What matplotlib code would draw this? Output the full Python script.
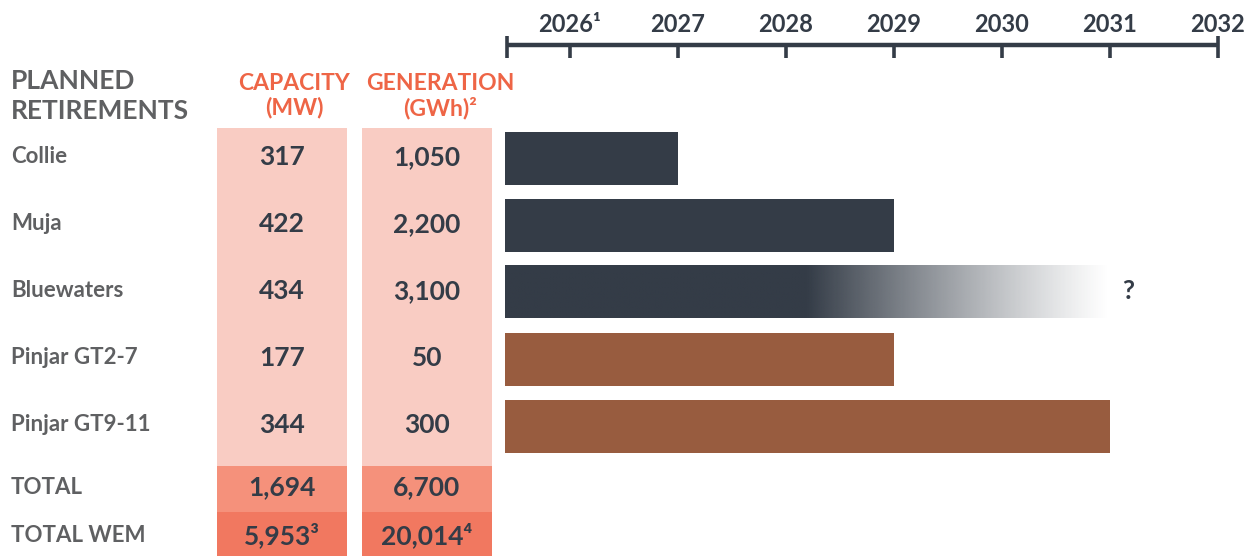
import numpy as np
import matplotlib
matplotlib.use("Agg")
import matplotlib.pyplot as plt
from matplotlib.patches import Rectangle

# ---------------- data ----------------
plants = ["Collie", "Muja", "Bluewaters", "Pinjar GT2-7", "Pinjar GT9-11"]
capacity_mw = ["317", "422", "434", "177", "344"]
generation_gwh = ["1,050", "2,200", "3,100", "50", "300"]
retire_year = [2027, 2029, 2031, 2029, 2031]
fuel = ["coal", "coal", "coal", "gas", "gas"]
uncertain = [False, False, True, False, False]
total_labels = ["TOTAL", "TOTAL WEM"]
total_capacity = ["1,694", "5,953\u00b3"]
total_generation = ["6,700", "20,014\u2074"]
years = [2026, 2027, 2028, 2029, 2030, 2031, 2032]
year_labels = ["2026\u00b9", "2027", "2028", "2029", "2030", "2031", "2032"]

# ---------------- style ----------------
DARK = "#343c47"
BROWN = "#985c3f"
GRAY = "#5f6062"
ORANGE = "#ee6546"
PINK = "#f9ccc3"
TOTAL_C = "#f5917b"
WEM_C = "#f17860"
FONT = ["Lato", "DejaVu Sans"]
plt.rcParams["font.family"] = FONT

FS_TITLE = 19
FS_HEAD = 16.5
FS_LABEL = 16
FS_VALUE = 19
FS_YEAR = 17

W, H = 1247, 556
fig = plt.figure(figsize=(W / 100, H / 100), dpi=100)

# y in "row" units: row i centred at 158 + 67*i px
def r(px):
    return (px - 158) / 67.0

YL = (r(H), r(0))

# background / table axes, x in pixels
ax = fig.add_axes([0, 0, 1, 1])
ax.set_xlim(0, W)
ax.set_ylim(*YL)
ax.axis("off")

cap_x0, cap_x1 = 217, 347
gen_x0, gen_x1 = 362, 492
top_px, tot_px, wem_px = 128, 466, 512
for x0, x1 in [(cap_x0, cap_x1), (gen_x0, gen_x1)]:
    ax.add_patch(Rectangle((x0, r(top_px)), x1 - x0, r(tot_px) - r(top_px),
                           color=PINK, lw=0))
    ax.add_patch(Rectangle((x0, r(tot_px)), x1 - x0, r(wem_px) - r(tot_px),
                           color=TOTAL_C, lw=0))
    ax.add_patch(Rectangle((x0, r(wem_px)), x1 - x0, r(H) - r(wem_px),
                           color=WEM_C, lw=0))

# header texts
ax.text(11, r(81), "PLANNED", color=GRAY, fontsize=FS_TITLE, fontweight="bold",
        ha="left", va="center")
ax.text(11, r(111), "RETIREMENTS", color=GRAY, fontsize=FS_TITLE,
        fontweight="bold", ha="left", va="center")
ax.text(294, r(83), "CAPACITY", color=ORANGE, fontsize=FS_HEAD,
        fontweight="bold", ha="center", va="center")
ax.text(294, r(108), "(MW)", color=ORANGE, fontsize=FS_HEAD, fontweight="bold",
        ha="center", va="center")
ax.text(440, r(83), "GENERATION", color=ORANGE, fontsize=FS_HEAD,
        fontweight="bold", ha="center", va="center")
ax.text(440, r(108), "(GWh)\u00b2", color=ORANGE, fontsize=FS_HEAD,
        fontweight="bold", ha="center", va="center")

# rows
cap_c = (cap_x0 + cap_x1) / 2
gen_c = (gen_x0 + gen_x1) / 2
for i, name in enumerate(plants):
    y = i - 0.02
    ax.text(11, y, name, color=GRAY, fontsize=FS_LABEL, fontweight="bold",
            ha="left", va="center")
    ax.text(cap_c, y, capacity_mw[i], color=DARK, fontsize=FS_VALUE,
            fontweight="bold", ha="center", va="center")
    ax.text(gen_c, y, generation_gwh[i], color=DARK, fontsize=FS_VALUE,
            fontweight="bold", ha="center", va="center")

for j, lab in enumerate(total_labels):
    y = r([487, 535][j])
    ax.text(11, y, lab, color=GRAY, fontsize=FS_LABEL, fontweight="bold",
            ha="left", va="center")
    ax.text(cap_c, y, total_capacity[j], color=DARK, fontsize=FS_VALUE,
            fontweight="bold", ha="center", va="center")
    ax.text(gen_c, y, total_generation[j], color=DARK, fontsize=FS_VALUE,
            fontweight="bold", ha="center", va="center")

# ---------------- timeline axes ----------------
x_left_px, x_right_px = 505, 1218
start_year = 2026 - (570 - 505) / 108.0
bx = fig.add_axes([x_left_px / W, 0, (x_right_px - x_left_px) / W, 1])
bx.set_xlim(start_year, 2032)
bx.set_ylim(*YL)
bx.axis("off")
bx.patch.set_alpha(0)

line_start = start_year + 2 / 108.0
line_y = r(45)
bx.plot([line_start, 2032], [line_y, line_y], color=DARK, lw=3.2,
        solid_capstyle="butt", clip_on=False)
bx.plot([line_start, line_start], [r(36), r(58)], color=DARK, lw=2.6,
        solid_capstyle="butt", clip_on=False)
for yr, lab in zip(years, year_labels):
    top = r(36) if yr == years[-1] else line_y
    bx.plot([yr, yr], [top, r(58)], color=DARK, lw=2.6, solid_capstyle="butt",
            clip_on=False)
    bx.text(yr, r(25), lab, color=DARK, fontsize=FS_YEAR, fontweight="bold",
            ha="center", va="center", clip_on=False)

bar_h = 53 / 67.0
for i in range(len(plants)):
    col = DARK if fuel[i] == "coal" else BROWN
    if uncertain[i]:
        n = 400
        t = np.linspace(0, 1, n)
        fade_start = 0.5
        alpha = np.clip(1 - (t - fade_start) / (1 - fade_start), 0, 1)
        alpha = alpha ** 1.15
        rgb = np.array(matplotlib.colors.to_rgb(col))
        img = np.ones((1, n, 4))
        img[0, :, :3] = rgb
        img[0, :, 3] = alpha
        bx.imshow(img, extent=[start_year, retire_year[i], i + bar_h / 2,
                               i - bar_h / 2],
                  aspect="auto", interpolation="bilinear", zorder=2)
        bx.text(retire_year[i] + 0.17, i - 0.02, "?", color=DARK, fontsize=19,
                fontweight="bold", ha="center", va="center")
    else:
        bx.barh(i, retire_year[i] - start_year, left=start_year, height=bar_h,
                color=col, lw=0, zorder=2)

bx.set_xlim(start_year, 2032)
bx.set_ylim(*YL)

fig.savefig("out.png", dpi=100)
